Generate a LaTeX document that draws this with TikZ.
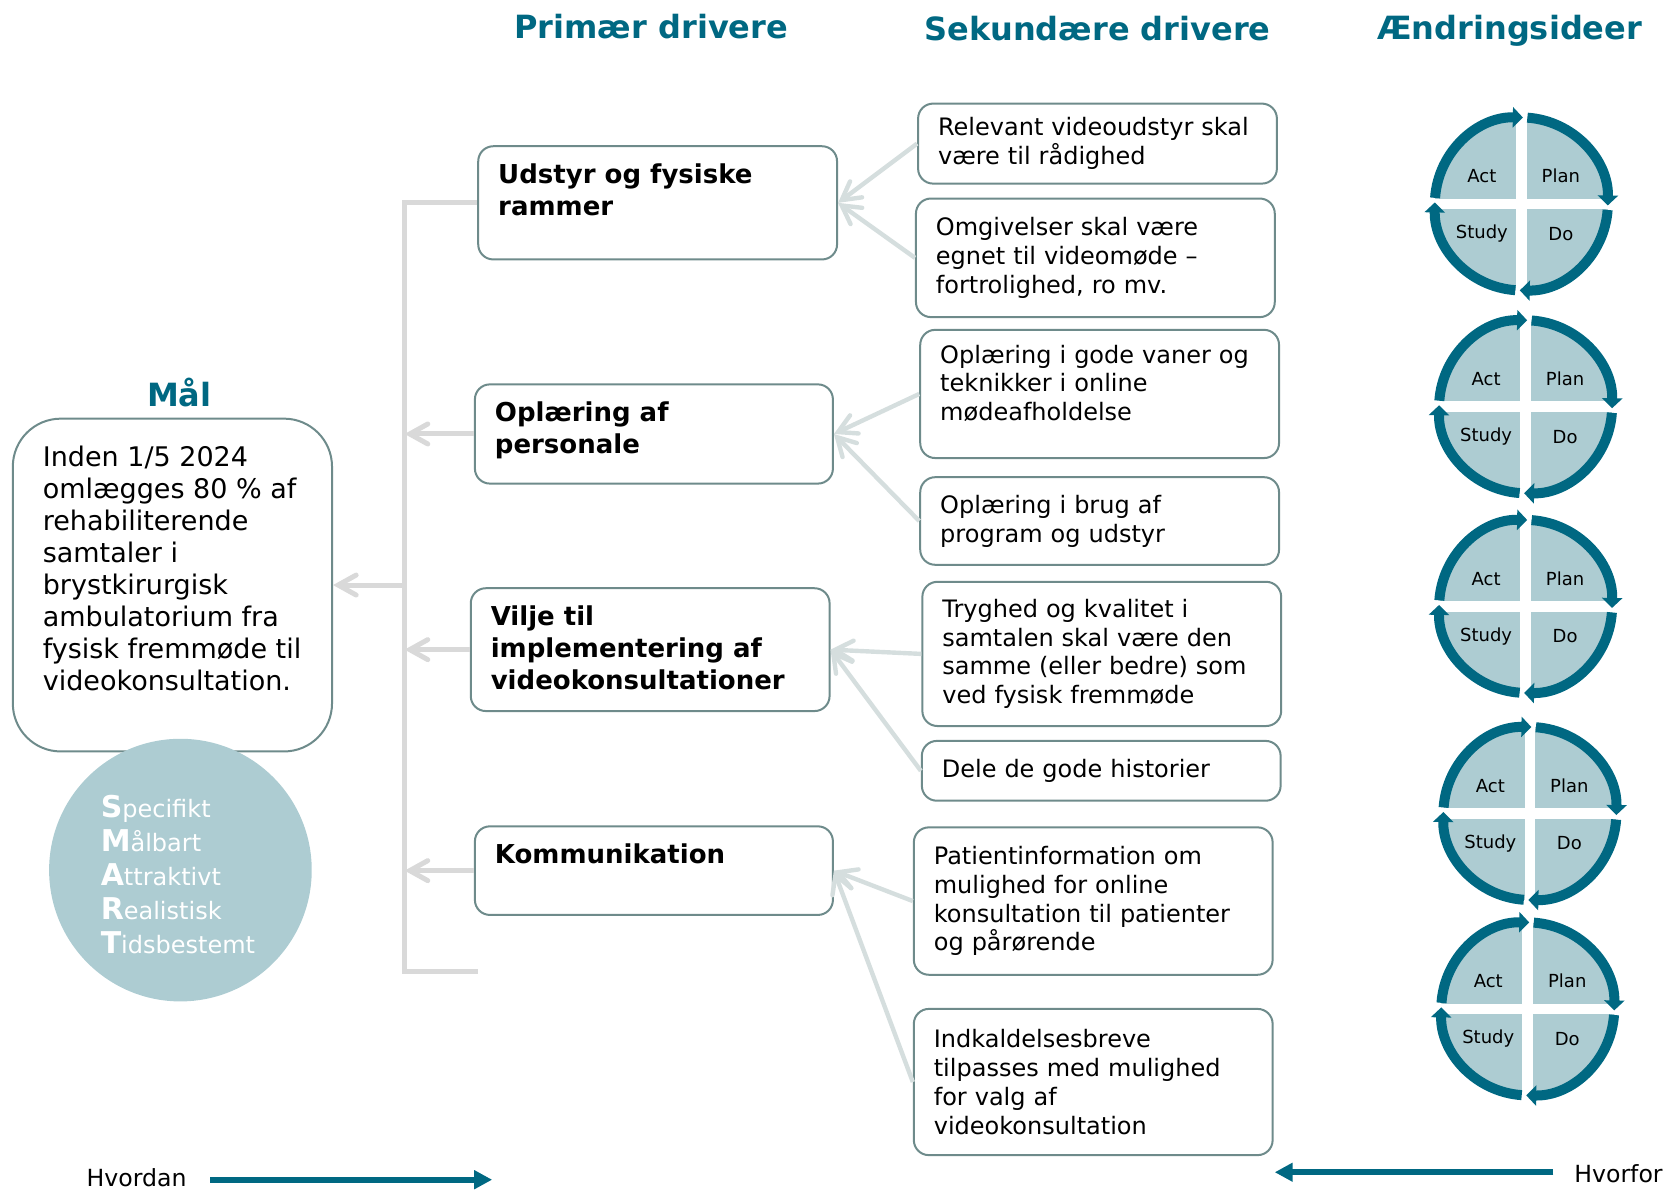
\documentclass[tikz,border=0pt]{standalone}
\usepackage{fontspec}
\setmainfont{DejaVu Sans}
\usetikzlibrary{arrows.meta}

\definecolor{petrol}{HTML}{006882}
\definecolor{lightpetrol}{HTML}{ADCCD2}
\definecolor{boxline}{HTML}{6E8B8B}
\definecolor{connline}{HTML}{D5DEDE}
\definecolor{brackline}{HTML}{D9D9D9}

% text box with fixed height, text at the top
\newcommand{\boxtxt}[3]{\parbox[t][#1][t]{#2}{\raggedright #3}}
\newcommand{\init}[1]{{\fontsize{15}{17}\selectfont\bfseries #1}}

\begin{document}
\begin{tikzpicture}[
        x=0.5338pt, y=-0.5338pt,
        heading/.style={text=petrol, font=\fontsize{16}{19}\selectfont\bfseries},
        prim/.style={draw=boxline, line width=1pt, rounded corners=7.5pt, inner xsep=10pt, inner ysep=8.8pt, font=\fontsize{13}{16}\selectfont\bfseries},
        sec/.style={draw=boxline, line width=1pt, rounded corners=7.5pt, text width=159.4pt, align=left, inner xsep=10pt, inner ysep=0pt, font=\fontsize{12}{14.4}\selectfont},
        goalbox/.style={draw=boxline, line width=1pt, rounded corners=24pt, inner xsep=15pt, inner ysep=13.7pt, font=\fontsize{13.5}{16}\selectfont},
        conn/.style={connline, line width=2.2pt, -{Straight Barb[length=9pt,width=10pt,line cap=round]}},
        bracket/.style={brackline, line width=2.5pt},
        feed/.style={brackline, line width=2.5pt, -{Straight Barb[length=9pt,width=10pt,line cap=round]}},
        pdsaarc/.style={petrol, line width=5pt, -{Triangle[width=10pt,length=5pt]}},
        pdsa/.style={font=\fontsize{9}{11}\selectfont},
        smart/.style={text=white, align=left, inner sep=0pt, font=\fontsize{12}{17}\selectfont},
        bigarrow/.style={petrol, line width=3pt, -{Triangle[width=9pt,length=9pt]}},
        side/.style={font=\fontsize{11.8}{14}\selectfont}
    ]
        \useasboundingbox (0,0) rectangle (1568,1115);

        % Headings
        \node[heading] (prim) at (610,25) {Primær drivere};
        \node[heading] (sek) at (1028,27) {Sekundære drivere};
        \node[heading] (aend) at (1414,29) {Ændringsideer};
        \node[heading] (maal) at (168,368) {Mål};

        % Goal and SMART
        \node[goalbox] (goal) at (161.5,548) {\boxtxt{139pt}{129.6pt}{Inden 1/5 2024\\omlægges 80 \% af\\rehabiliterende\\samtaler i\\brystkirurgisk\\ambulatorium fra\\fysisk fremmøde til\\videokonsultation.}};
        \fill[lightpetrol] (169,815) circle[radius=123];
        \node[smart, anchor=west] (smarttxt) at (94,819) {\init{S}pecifikt\\\init{M}ålbart\\\init{A}ttraktivt\\\init{R}ealistisk\\\init{T}idsbestemt};

        % Primary drivers
        \node[prim] (p1) at (616,190) {\boxtxt{39pt}{159.4pt}{Udstyr og fysiske\\rammer}};
        \node[prim] (p2) at (612.5,406.5) {\boxtxt{32pt}{159pt}{Oplæring af\\personale}};
        \node[prim] (p3) at (609,608.5) {\boxtxt{43.8pt}{159.4pt}{Vilje til\\implementering af\\videokonsultationer}};
        \node[prim] (p4) at (612.5,815.5) {\boxtxt{26.7pt}{159pt}{Kommunikation}};

        % Secondary drivers
        \node[sec, minimum height=40pt] (s1) at (1028,134.5) {Relevant videoudstyr skal\\være til rådighed};
        \node[sec, minimum height=59.3pt] (s2) at (1026,241.5) {Omgivelser skal være\\egnet til videomøde –\\fortrolighed, ro mv.};
        \node[sec, inner ysep=7.5pt] (s3) at (1030,369) {\boxtxt{49.1pt}{159.4pt}{Oplæring i gode vaner og\\teknikker i online\\mødeafholdelse}};
        \node[sec, minimum height=43.8pt] (s4) at (1030,488) {Oplæring i brug af\\program og udstyr};
        \node[sec, minimum height=72.1pt] (s5) at (1032,612.5) {Tryghed og kvalitet i\\samtalen skal være den\\samme (eller bedre) som\\ved fysisk fremmøde};
        \node[sec, minimum height=29.9pt] (s6) at (1031.5,722) {Dele de gode historier};
        \node[sec, minimum height=73.7pt] (s7) at (1024,844) {Patientinformation om\\mulighed for online\\konsultation til patienter\\og pårørende};
        \node[sec, minimum height=73.1pt] (s8) at (1024,1013.5) {Indkaldelsesbreve\\tilpasses med mulighed\\for valg af\\videokonsultation};

        % Secondary -> primary
        \draw[conn] (s1.west) -- (p1.east);
        \draw[conn] (s2.west) -- (p1.east);
        \draw[conn] (s3.west) -- (p2.east);
        \draw[conn] (s4.west) -- (p2.east);
        \draw[conn] (s5.west) -- (p3.east);
        \draw[conn] (s6.west) -- (p3.east);
        \draw[conn] (s7.west) -- (p4.east);
        \draw[conn] (s8.west) -- (p4.east);

        % Bracket to the goal
        \coordinate (brtop) at (379,190);
        \coordinate (brbot) at (379,910);
        \coordinate (brend) at (448,910);
        \draw[bracket] (p1.west) -- (brtop) -- (brbot) -- (brend);
        \draw[feed] (p2.west) -- (p2.west -| brtop);
        \draw[feed] (p3.west) -- (p3.west -| brtop);
        \draw[feed] (p4.west) -- (p4.west -| brtop);
        \draw[feed] (goal.east -| brtop) -- (goal.east);

        % PDSA cycles
        \foreach \cx/\cy [count=\i] in {1425/191, 1429/381, 1429/568, 1433/762, 1431/945} {
            \begin{scope}[shift={(\cx,\cy)}, x=0.5338pt, y=0.5338pt]
                \fill[lightpetrol] (0,0) circle[radius=81];
                \fill[white] (-86,-5) rectangle (86,5);
                \fill[white] (-5,-86) rectangle (5,86);
                \draw[pdsaarc] (86:81) arc[start angle=86, end angle=-1, radius=81];
                \draw[pdsaarc] (-4:81) arc[start angle=-4, end angle=-91, radius=81];
                \draw[pdsaarc] (-94:81) arc[start angle=-94, end angle=-181, radius=81];
                \draw[pdsaarc] (176:81) arc[start angle=176, end angle=89, radius=81];
                \node[pdsa] (act\i) at (-37,26) {Act};
                \node[pdsa] (plan\i) at (37,26) {Plan};
                \node[pdsa] (study\i) at (-37,-28) {Study};
                \node[pdsa] (do\i) at (37,-28) {Do};
            \end{scope}
        }

        % How / why
        \node[side] (hvordan) at (128,1103) {Hvordan};
        \coordinate (hvstart) at (197,1105);
        \coordinate (hvend) at (461,1105);
        \draw[bigarrow] (hvstart) -- (hvend);
        \node[side] (hvorfor) at (1516,1099) {Hvorfor};
        \coordinate (hfstart) at (1455,1098);
        \coordinate (hfend) at (1194,1098);
        \draw[bigarrow] (hfstart) -- (hfend);

\end{tikzpicture}
\end{document}
